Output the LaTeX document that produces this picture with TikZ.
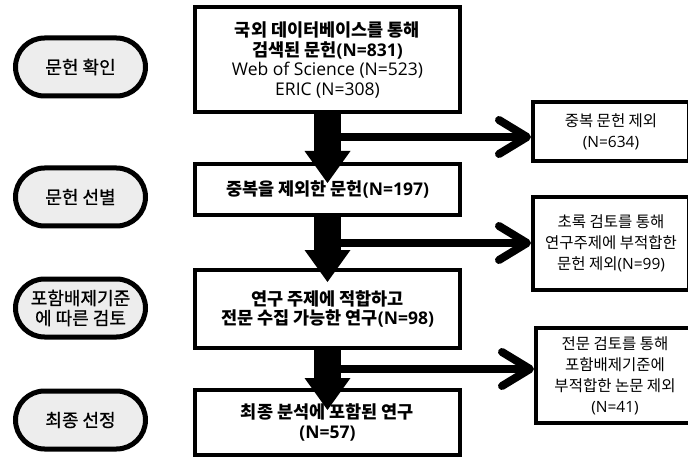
\documentclass[tikz,border=0pt]{standalone}
\usepackage{fontspec}
\setmainfont{Open Sans}
\newfontfamily\krfont{Noto Sans CJK KR}
\newfontfamily\krmedfont{Noto Sans CJK KR}[FakeBold=0.8]
\newfontfamily\latfont{Open Sans}
\newcommand\krsel{\krfont}
%Hangul -> Noto Sans CJK KR, Rest -> Open Sans
\XeTeXinterchartokenstate=1
\newXeTeXintercharclass\hangulclass
\newcount\hcode
\hcode="AC00
\loop
  \XeTeXcharclass\hcode=\hangulclass
  \ifnum\hcode<"D7A3 \advance\hcode by 1
\repeat
\XeTeXinterchartoks 0 \hangulclass = {\krsel}
\XeTeXinterchartoks 4095 \hangulclass = {\krsel}
\XeTeXinterchartoks \hangulclass 0 = {\latfont}
\XeTeXinterchartoks 4095 0 = {\latfont}
\usepackage{tikz}
\usetikzlibrary{shapes.misc}
\usetikzlibrary{arrows.meta}
\usepackage{color}
\definecolor{stageGray}{RGB}{237, 237, 237}

\begin{document}
\begin{tikzpicture} [
    x=1pt, y=-1pt,
    stage/.style    = { rounded rectangle, line width=5pt, draw=black, fill=stageGray,
                        minimum width=130pt, minimum height=58pt, align=center,
                        inner sep=0pt,
                        font=\renewcommand\krsel{\krmedfont}\fontsize{18}{20}\selectfont},
    block/.style    = { rectangle, line width=4pt, draw=black, fill=white,
                        minimum width=265pt, align=center, inner sep=0pt,
                        font=\bfseries\fontsize{17.5}{19.5}\selectfont},
    result/.style   = { rectangle, line width=4pt, draw=black, fill=white,
                        align=center, inner sep=0pt,
                        font=\fontsize{15.5}{21}\selectfont},
    bigline/.style  = { draw, line width=27pt,
                        -{Triangle[length=32pt, width=46pt, line width=0pt]}},
    line/.style     = { draw, line width=8pt,
                        -{Straight Barb[length=28pt, width=34pt, round]}},
  ]
\useasboundingbox (0,0) rectangle (688,457);

%Stufen (links)
  \node [stage] (s1) at (80.5,67)  {문헌 확인};
  \node [stage] (s2) at (80.5,197) {문헌 선별};
  \node [stage] (s3) at (80.5,308) {포함배제기준\\에 따른 검토};
  \node [stage] (s4) at (80.5,420) {최종 선정};

%Literatur (Mitte)
  \node [block, minimum height=105pt] (b1) at (327.5,60)
        {국외 데이터베이스를 통해\\ 검색된 문헌(N=831)\\
         \mdseries Web of Science (N=523)\\ \mdseries ERIC (N=308)};
  \node [block, minimum height=51pt] (b2) at (327.5,189.5)
        {중복을 제외한 문헌(N=197)};
  \node [block, minimum height=78pt] (b3) at (327.5,309)
        {연구 주제에 적합하고\\ 전문 수집 가능한 연구(N=98)};
  \node [block, minimum height=65pt] (b4) at (327.5,422.5)
        {최종 분석에 포함된 연구\\ (N=57)};

%Ausschluss (rechts)
  \node [result, minimum width=156pt, minimum height=59pt] (r1) at (611,131.5)
        {중복 문헌 제외\\ (N=634)};
  \node [result, minimum width=156pt, minimum height=93pt] (r2) at (611,243.5)
        {초록 검토를 통해\\ 연구주제에 부적합한\\ 문헌 제외(N=99)};
  \node [result, minimum width=158pt, minimum height=95pt] (r3) at (615,375.5)
        {전문 검토를 통해\\ 포함배제기준에\\ 부적합한 논문 제외\\ (N=41)};

  \coordinate (t1) at (327.5,183);
  \coordinate (t2) at (327.5,282);
  \coordinate (t3) at (327.5,410);
  \coordinate (h1) at (327.5,137);
  \coordinate (h2) at (327.5,243);
  \coordinate (h3) at (327.5,369);

%Pfeile nach rechts
  \begin{scope} [every path/.style={line}]
   \path (h1) -- (h1 -| r1.west);
   \path (h2) -- (h2 -| r2.west);
   \path (h3) -- (h3 -| r3.west);
  \end{scope}

%dicke Pfeile nach unten
  \begin{scope} [every path/.style={bigline}]
   \path (b1.south) -- (t1);
   \path (b2.south) -- (t2);
   \path (b3.south) -- (t3);
  \end{scope}
\end{tikzpicture}
\end{document}
